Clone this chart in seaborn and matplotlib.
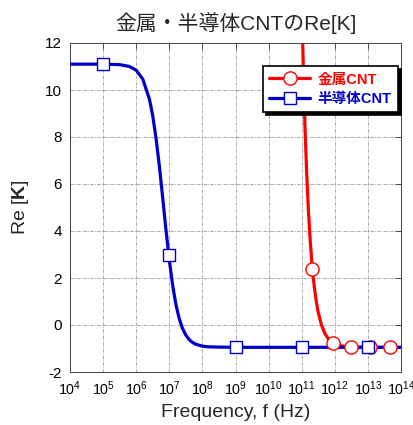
import numpy as np
import pandas as pd
import matplotlib
matplotlib.use("Agg")
import matplotlib.pyplot as plt
from matplotlib.lines import Line2D
import seaborn as sns

# ---- data (log10 frequency, Re[K]) ----
blue_logf = [4.0, 5.0, 5.5, 5.8, 6.0, 6.2, 6.4, 6.5, 6.6, 6.7, 6.8, 6.9, 7.0, 7.1,
             7.2, 7.3, 7.4, 7.5, 7.6, 7.7, 7.8, 8.0, 8.2, 8.5, 9.0, 10.0, 11.0, 12.0, 13.0, 14.0]
blue_re = [11.10, 11.10, 11.08, 11.00, 10.84, 10.46, 9.61, 8.90, 7.94, 6.76, 5.42, 4.04, 2.77, 1.70,
           0.87, 0.27, -0.15, -0.43, -0.62, -0.74, -0.82, -0.90, -0.93, -0.94, -0.95, -0.95, -0.95, -0.95, -0.95, -0.95]

red_logf = [11.0, 11.05, 11.10, 11.15, 11.20, 11.25, 11.30, 11.35, 11.40, 11.45, 11.50, 11.60,
            11.70, 11.80, 11.90, 12.0, 12.2, 12.4, 12.7, 13.0, 13.5, 14.0]
red_re = [13.88, 10.83, 8.41, 6.48, 4.95, 3.74, 2.77, 2.01, 1.40, 0.92, 0.53, -0.01,
          -0.36, -0.58, -0.715, -0.80, -0.89, -0.93, -0.94, -0.95, -0.95, -0.95]

blue_mark_logf = [5.0, 6.98, 9.0, 11.0, 13.0]
blue_mark_re = [11.10, 3.00, -0.95, -0.95, -0.95]
red_mark_logf = [11.32, 11.95, 12.49, 13.05, 13.67]
red_mark_re = [2.40, -0.77, -0.93, -0.95, -0.95]

title = "金属・半導体CNTのRe[K]"
label_metal = "金属CNT"
label_semi = "半導体CNT"
xlabel = "Frequency, f (Hz)"
ylabel = r"Re [$\mathbf{K}$]"
xticks_exp = list(range(4, 15))
yticks = list(range(-2, 13, 2))

RED = "#ff0000"
BLUE = "#0000cc"

sns.set_theme(style="white")
plt.rcParams["font.family"] = ["Liberation Sans", "Noto Sans CJK JP", "DejaVu Sans"]
plt.rcParams["mathtext.fontset"] = "custom"
plt.rcParams["mathtext.rm"] = "Liberation Sans"
plt.rcParams["mathtext.bf"] = "Liberation Sans:bold"
plt.rcParams["mathtext.it"] = "Liberation Sans:italic"

fig = plt.figure(figsize=(4.14, 4.25), dpi=100)
ax = fig.add_axes([70 / 414, 53 / 425, 331 / 414, 329 / 425])

red_df = pd.DataFrame({"f": np.power(10.0, red_logf), "re": red_re})
blue_df = pd.DataFrame({"f": np.power(10.0, blue_logf), "re": blue_re})
redm = pd.DataFrame({"f": np.power(10.0, red_mark_logf), "re": red_mark_re})
bluem = pd.DataFrame({"f": np.power(10.0, blue_mark_logf), "re": blue_mark_re})

sns.lineplot(data=red_df, x="f", y="re", ax=ax, color=RED, lw=2.3, zorder=2, sort=False)
sns.lineplot(data=blue_df, x="f", y="re", ax=ax, color=BLUE, lw=2.3, zorder=3, sort=False)
sns.scatterplot(data=redm, x="f", y="re", ax=ax, marker="o", s=90, facecolor="white",
                edgecolor=RED, linewidth=1.0, zorder=4)
sns.scatterplot(data=bluem, x="f", y="re", ax=ax, marker="s", s=78, facecolor="white",
                edgecolor=BLUE, linewidth=1.0, zorder=5)

ax.set_xscale("log")
ax.set_xlim(1e4, 1e14)
ax.set_ylim(-2, 12)
ax.set_xticks([10.0 ** e for e in xticks_exp])
ax.set_xticklabels([r"$10^{%d}$" % e for e in xticks_exp])
ax.minorticks_off()
ax.set_yticks(yticks)
ax.set_yticklabels([str(v) for v in yticks])
ax.tick_params(axis="both", direction="in", length=4, width=0.6, colors="#333333",
               labelcolor="black", labelsize=11, top=True, right=True, pad=6)
ax.tick_params(axis="x", labelsize=10.3, pad=5)

ax.grid(True, which="major", color="#999999", linestyle=(0, (4, 1.5, 1, 1.5)), linewidth=0.6)
for sp in ax.spines.values():
    sp.set_color("#444444")
    sp.set_linewidth(0.7)

ax.set_xlabel(xlabel, fontsize=14, labelpad=5)
ax.set_ylabel(ylabel, fontsize=14, labelpad=10)
ax.set_title(title, fontsize=15, pad=9)

handles = [
    Line2D([], [], color=RED, lw=2.3, marker="o", markersize=9.5, markerfacecolor="white",
           markeredgecolor=RED, markeredgewidth=1.0),
    Line2D([], [], color=BLUE, lw=2.3, marker="s", markersize=9, markerfacecolor="white",
           markeredgecolor=BLUE, markeredgewidth=1.0),
]
leg = ax.legend(handles, [label_metal, label_semi], loc="upper right",
                bbox_to_anchor=(398 / 414, (425 - 66) / 425), bbox_transform=fig.transFigure,
                frameon=True, fancybox=False, shadow={"color": "black", "alpha": 1.0},
                edgecolor="black", framealpha=1.0, handlelength=2.8, handletextpad=0.5,
                borderpad=0.45, labelspacing=0.35, borderaxespad=0,
                prop={"size": 10.5, "weight": "bold"})
leg.get_frame().set_linewidth(1.2)
leg.set_zorder(10)
for t, c in zip(leg.get_texts(), [RED, BLUE]):
    t.set_color(c)

fig.savefig("out.png", dpi=100)
